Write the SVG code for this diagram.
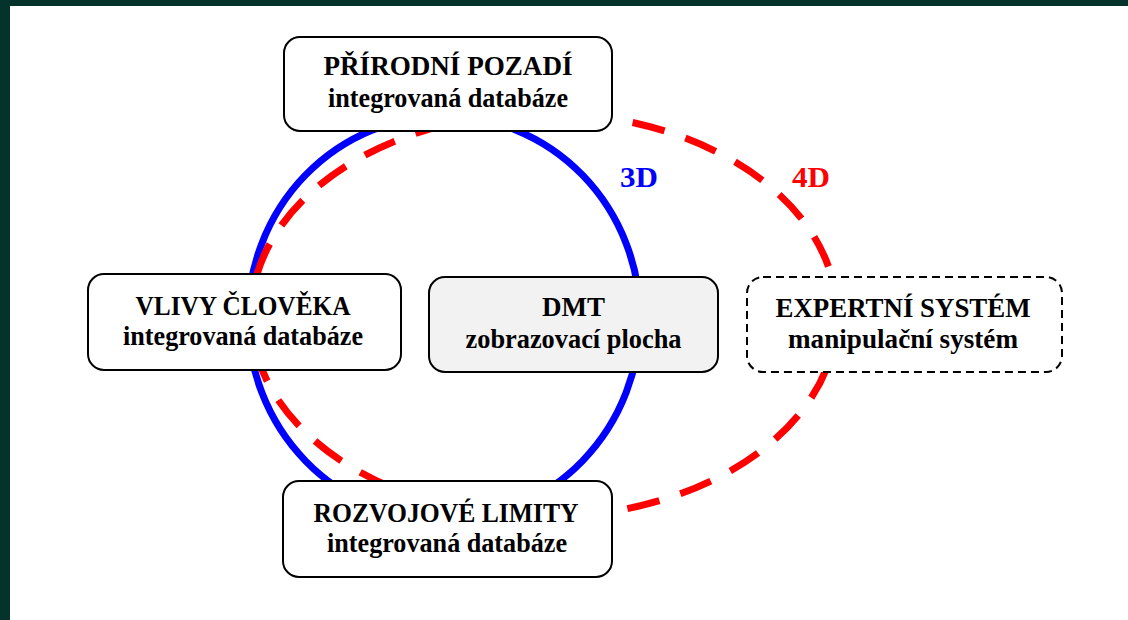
<svg xmlns="http://www.w3.org/2000/svg" width="1128" height="620" viewBox="0 0 1128 620">
  <style>
    .box { fill: #ffffff; stroke: #000000; stroke-width: 2; }
    .grey { fill: #f2f2f2; }
    .dashbox { stroke-dasharray: 8 5; }
    .t { font-family: "Liberation Serif", "Times New Roman", serif; font-weight: bold; font-size: 27px; fill: #000000; text-anchor: middle; }
    .lbl { font-family: "Liberation Serif", "Times New Roman", serif; font-weight: bold; font-size: 30px; }
  </style>
  <rect x="0" y="0" width="1128" height="620" fill="#ffffff"/>
  <rect x="0" y="0" width="1128" height="6" fill="#03332a"/>
  <rect x="0" y="0" width="10" height="620" fill="#03332a"/>

  <g id="connectors">
    <ellipse id="cycle-3d" cx="444" cy="318" rx="196" ry="202" fill="none" stroke="#0000ff" stroke-width="7"/>
    <ellipse id="cycle-4d" cx="544" cy="315" rx="293" ry="202" fill="none" stroke="#ff0000" stroke-width="7" stroke-dasharray="33 22"/>
    <text class="lbl" x="620" y="187" fill="#0000ff" textLength="38" lengthAdjust="spacingAndGlyphs">3D</text>
    <text class="lbl" x="792" y="187" fill="#ff0000" textLength="38" lengthAdjust="spacingAndGlyphs">4D</text>
  </g>

  <g id="prirodni-pozadi">
    <rect class="box" x="284" y="37" width="328" height="94" rx="16"/>
    <text class="t" x="448" y="75" textLength="249" lengthAdjust="spacingAndGlyphs">PŘÍRODNÍ POZADÍ</text>
    <text class="t" x="448" y="107" textLength="240" lengthAdjust="spacingAndGlyphs">integrovaná databáze</text>
  </g>

  <g id="vlivy-cloveka">
    <rect class="box" x="88" y="274" width="313" height="96" rx="16"/>
    <text class="t" x="243" y="315" textLength="215" lengthAdjust="spacingAndGlyphs">VLIVY ČLOVĚKA</text>
    <text class="t" x="243" y="345" textLength="240" lengthAdjust="spacingAndGlyphs">integrovaná databáze</text>
  </g>

  <g id="dmt">
    <rect class="box grey" x="429" y="277" width="289" height="95" rx="16"/>
    <text class="t" x="573.5" y="316" textLength="63" lengthAdjust="spacingAndGlyphs">DMT</text>
    <text class="t" x="573.5" y="348" textLength="216" lengthAdjust="spacingAndGlyphs">zobrazovací plocha</text>
  </g>

  <g id="expertni-system">
    <rect class="box dashbox" x="747" y="277" width="315" height="95" rx="16"/>
    <text class="t" x="903" y="317" textLength="255" lengthAdjust="spacingAndGlyphs">EXPERTNÍ SYSTÉM</text>
    <text class="t" x="903" y="348" textLength="230" lengthAdjust="spacingAndGlyphs">manipulační systém</text>
  </g>

  <g id="rozvojove-limity">
    <rect class="box" x="283" y="481" width="329" height="96" rx="16"/>
    <text class="t" x="446" y="522" textLength="265" lengthAdjust="spacingAndGlyphs">ROZVOJOVÉ LIMITY</text>
    <text class="t" x="447" y="552" textLength="240" lengthAdjust="spacingAndGlyphs">integrovaná databáze</text>
  </g>
</svg>
